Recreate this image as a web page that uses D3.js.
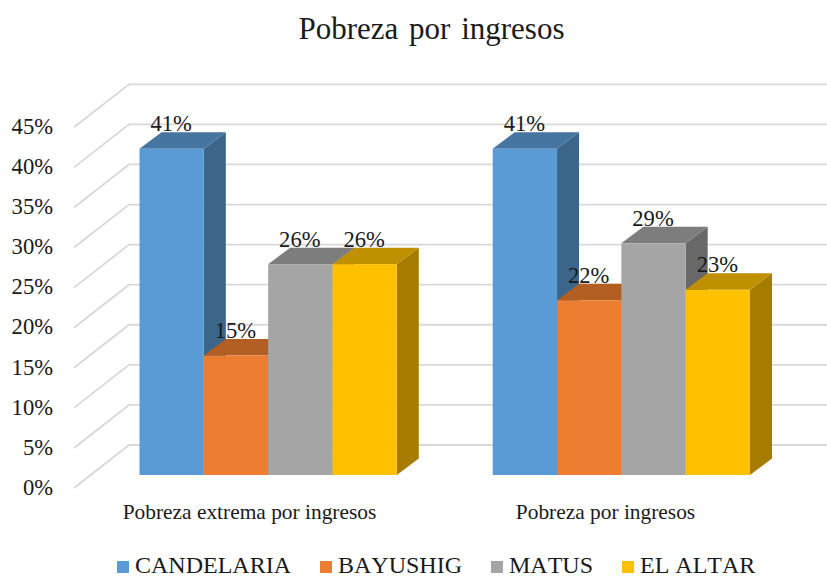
<!DOCTYPE html>
<html><head><meta charset="utf-8">
<script src="https://cdn.jsdelivr.net/npm/d3@7"></script>
<style>html,body{margin:0;padding:0;background:#fff}svg{display:block}text{font-family:"Liberation Serif",serif;fill:#1a1a1a}</style>
</head><body><div id="c"></div>
<script>
const categories = ["Pobreza extrema por ingresos","Pobreza por ingresos"];
const seriesNames = ["CANDELARIA","BAYUSHIG","MATUS","EL ALTAR"];
const candelaria = [40.7,40.7];
const bayushig = [14.9,21.8];
const matus = [26.3,28.9];
const elAltar = [26.3,23.1];
const valueLabels = [["41%","41%"],["15%","22%"],["26%","29%"],["26%","23%"]];
const tickValues = [0,5,10,15,20,25,30,35,40,45];
const frontColors = ["#5B9BD5","#ED7D31","#A5A5A5","#FFC000"];
const topColors = ["#4675A2","#B35E22","#7D7D7D","#BF9000"];
const sideColors = ["#3B6589","#9A4F1C","#686868","#A67C00"];
const legendX = [117,320,491,622];

const W=827,H=577, depthX=22, depthY=16.5;
const series=[candelaria,bayushig,matus,elAltar];
const svg=d3.select("#c").append("svg").attr("width",W).attr("height",H);
const y=d3.scaleLinear().domain([0,45]).range([475,114.3]);
const x0=d3.scaleBand().domain(categories).range([139.5,750]).paddingInner(0.2716);
const x1=d3.scaleBand().domain(seriesNames).range([0,x0.bandwidth()]);

const wallX=129, wallDy=-30, diagDx=-55, diagDy=43;
const grid=svg.append("g").attr("fill","none").attr("stroke","#D9D9D9").attr("stroke-width",1.8);
tickValues.forEach(t=>{
  const yb=y(t)+wallDy;
  grid.append("path").attr("d",`M${wallX+diagDx},${yb+diagDy}L${wallX},${yb}L${W},${yb}`);
});

const axis=d3.axisLeft(y).tickValues(tickValues).tickFormat(d=>d+"%").tickSize(0).tickPadding(0);
const ag=svg.append("g").attr("transform","translate(53,12)").call(axis);
ag.select(".domain").remove();
ag.selectAll("text").style("font-family","'Liberation Serif',serif").style("font-size","22.6px").attr("fill","#1a1a1a");

categories.forEach((c,ci)=>{
  seriesNames.forEach((s,si)=>{
    const v=series[si][ci];
    const xl=x0(c)+x1(s), xr=xl+x1.bandwidth(), yt=y(v), yb=y(0);
    const g=svg.append("g");
    g.append("path").attr("fill",sideColors[si])
      .attr("d",`M${xr},${yt}L${xr+depthX},${yt-depthY}L${xr+depthX},${yb-depthY}L${xr},${yb}Z`);
    g.append("path").attr("fill",topColors[si])
      .attr("d",`M${xl},${yt}L${xl+depthX},${yt-depthY}L${xr+depthX},${yt-depthY}L${xr},${yt}Z`);
    g.append("rect").attr("fill",frontColors[si]).attr("x",xl).attr("y",yt).attr("width",xr-xl).attr("height",yb-yt);
  });
});
categories.forEach((c,ci)=>{
  seriesNames.forEach((s,si)=>{
    svg.append("text").attr("x",x0(c)+x1(s)+x1.bandwidth()/2-0.5).attr("y",y(series[si][ci])-17.5)
      .attr("text-anchor","middle").style("font-size","22.6px").text(valueLabels[si][ci]);
  });
});
svg.append("text").attr("x",431.5).attr("y",39).attr("text-anchor","middle")
  .style("font-size","31px").style("word-spacing","3px").text("Pobreza por ingresos");
const catX=[249.5,605.5];
categories.forEach((c,i)=>svg.append("text").attr("x",catX[i]).attr("y",519).attr("text-anchor","middle")
  .style("font-size","21.4px").text(c));
seriesNames.forEach((s,i)=>{
  svg.append("rect").attr("x",legendX[i]).attr("y",561).attr("width",12).attr("height",12).attr("fill",frontColors[i]);
  svg.append("text").attr("x",legendX[i]+18).attr("y",572.5).style("font-size","24px").style("font-kerning","none").text(s);
});
</script></body></html>
